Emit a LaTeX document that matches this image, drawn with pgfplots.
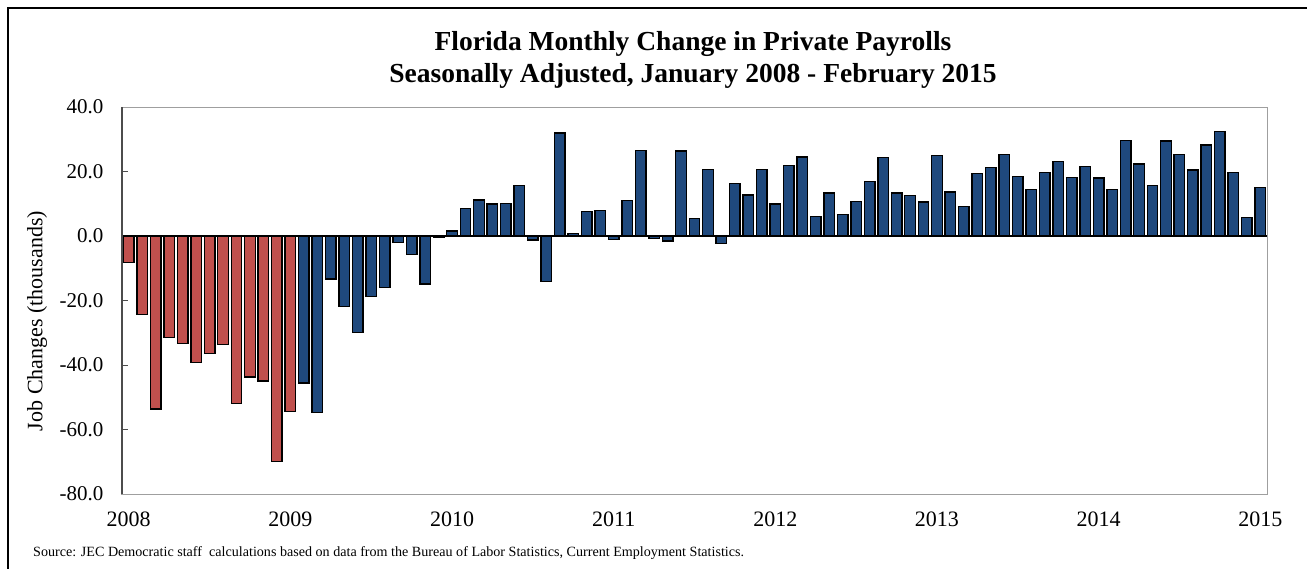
\documentclass[border=0pt]{standalone}
\usepackage{fontspec}
\setmainfont{Liberation Serif}
\usepackage{pgfplots}
\usepackage{pgfplotstable}
\pgfplotsset{compat=1.18}
\definecolor{barred}{RGB}{192,80,77}
\definecolor{barblue}{RGB}{31,73,125}

\pgfplotstableread{
x y
0 -8.3
1 -24.3
2 -53.6
3 -31.5
4 -33.4
5 -39.2
6 -36.5
7 -33.6
8 -52.0
9 -43.7
10 -45.0
11 -70.0
12 -54.4
}\redtable

\pgfplotstableread{
x y
13 -45.6
14 -54.8
15 -13.3
16 -21.8
17 -30.0
18 -18.7
19 -16.0
20 -2.0
21 -5.7
22 -14.9
23 -0.5
24 1.5
25 8.5
26 11.2
27 9.9
28 10.0
29 15.6
30 -1.2
31 -14.2
32 31.9
33 0.8
34 7.6
35 7.9
36 -1.0
37 11.0
38 26.5
39 -0.7
40 -1.5
41 26.4
42 5.5
43 20.6
44 -2.3
45 16.2
46 12.7
47 20.7
48 9.9
49 21.9
50 24.5
51 6.1
52 13.3
53 6.6
54 10.7
55 16.9
56 24.3
57 13.3
58 12.6
59 10.5
60 25.0
61 13.6
62 9.2
63 19.4
64 21.2
65 25.2
66 18.5
67 14.4
68 19.7
69 23.1
70 18.2
71 21.5
72 18.0
73 14.4
74 29.6
75 22.3
76 15.7
77 29.5
78 25.3
79 20.5
80 28.2
81 32.4
82 19.7
83 5.8
84 15.1
}\bluetable

\begin{document}
\begin{tikzpicture}
\useasboundingbox (0pt,0pt) rectangle (1307pt,-569pt);
\draw[line width=1.3pt] (8pt,-569pt) -- (8pt,-8pt) -- (1307pt,-8pt);
\node[font=\fontsize{27.5}{31.5}\selectfont\bfseries, align=center] at (693pt,-60pt)
  {Florida Monthly Change in Private Payrolls\\Seasonally Adjusted, January 2008 - February 2015};
\begin{axis}[
  at={(122pt,-494pt)}, anchor=south west,
  scale only axis, width=1145pt, height=387pt,
  xmin=-0.5, xmax=84.5, ymin=-80, ymax=40,
  ybar, bar width=10.5pt,
  axis line style={draw=gray!75, line width=1pt},
  xtick={0,12,...,84},
  xticklabels={2008,2009,2010,2011,2012,2013,2014,2015},
  xtick style={draw=none},
  xtick pos=bottom,
  ytick={-80,-60,...,40},
  ytick pos=left,
  tick align=inside,
  major tick length=6pt,
  ytick style={draw=black!70, line width=1pt},
  /pgf/number format/assume math mode=true,
  yticklabel style={/pgf/number format/fixed, /pgf/number format/fixed zerofill, /pgf/number format/precision=1, xshift=-15pt},
  ticklabel style={font=\fontsize{21}{24}\selectfont},
  xticklabel style={font=\fontsize{22}{24}\selectfont, yshift=-14pt},
  ylabel={Job Changes (thousands)},
  ylabel style={font=\fontsize{22}{24}\selectfont, at={(axis description cs:-0.0742,0.447)}, anchor=center},
  clip=false,
]
\addplot[fill=barred, draw=black, line width=1.4pt, bar shift=0pt] table[x=x,y=y] {\redtable};
\addplot[fill=barblue, draw=black, line width=1.4pt, bar shift=0pt] table[x=x,y=y] {\bluetable};
\draw[black, line width=1.4pt] (axis cs:-0.5,0) -- (axis cs:84.5,0);
\draw[black!70, line width=1.2pt] (rel axis cs:0,0) -- (rel axis cs:0,1);
\end{axis}
\node[anchor=base west, inner sep=0pt, font=\fontsize{14.1}{16}\selectfont] at (33pt,-556pt)
  {Source: JEC Democratic staff\ \ calculations based on data from the Bureau of Labor Statistics, Current Employment Statistics.};
\end{tikzpicture}
\end{document}
